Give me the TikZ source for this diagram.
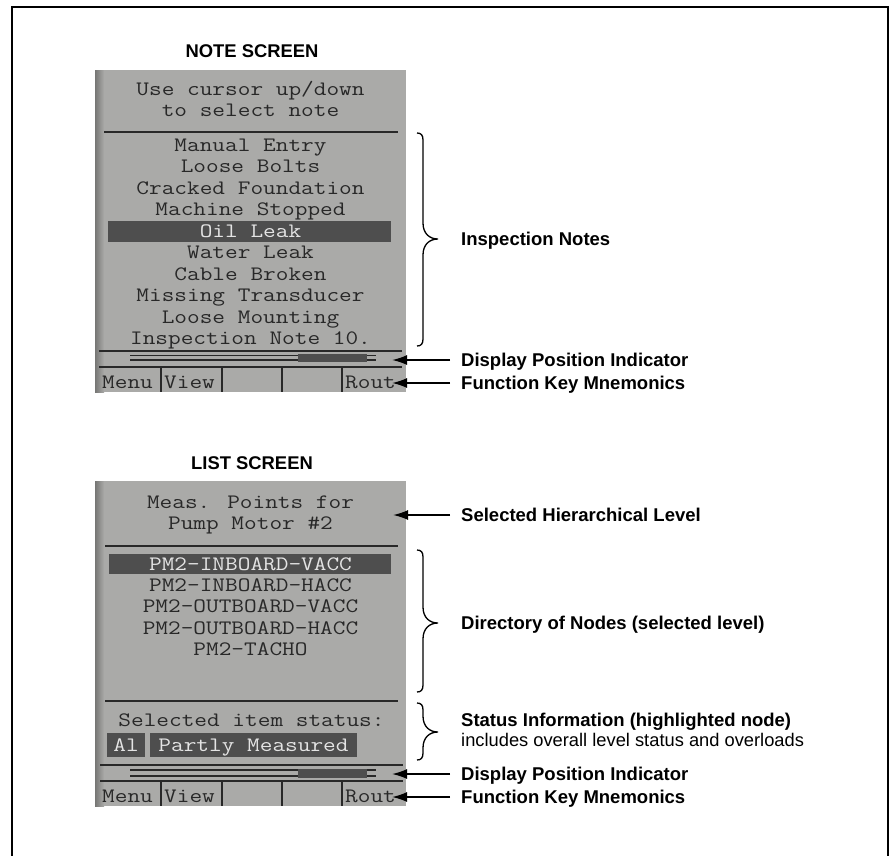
\documentclass[tikz,border=0pt]{standalone}
\usepackage{fontspec}
\setmainfont{Liberation Sans}
\newfontfamily\lcdfont[FakeStretch=1.2]{Latin Modern Mono}
\usetikzlibrary{arrows.meta}
\definecolor{lcd}{RGB}{170,170,168}
\definecolor{lcdedge}{RGB}{118,118,116}
\definecolor{ink}{RGB}{40,40,40}
\definecolor{hilite}{RGB}{78,78,78}
\definecolor{hitext}{RGB}{228,228,228}
\newcommand{\drawrule}{\draw[ink,line width=2pt]}
% screen body, #1 top, #2 bottom
\newcommand{\drawscreen}[2]{
  \fill[lcd] (95,#1) rectangle (406,#2);
  \shade[left color=lcdedge,right color=lcd] (95,#1) rectangle (104,#2);
}
% position bar, #1 upper line, #2 lower line
\newcommand{\drawposbar}[2]{
  \draw[ink,line width=1.4pt] (130,#1)--(376,#1);
  \draw[ink,line width=1.4pt] (130,#2)--(376,#2);
  \fill[hilite] (298,{#1-1.5}) rectangle (367,{#2+1.5});
}
% function keys, #1 name prefix, #2 row top, #3 row bottom
\newcommand{\drawkeys}[3]{
  \foreach \x in {161,222,282,342}{
    \draw[ink,line width=1.5pt] (\x,#2)--(\x,#3);
  }
  \node[lcdtext,anchor=west] (#1menu) at (102,{(#2+#3)/2+2.5}) {Menu};
  \node[lcdtext,anchor=west] (#1view) at (164,{(#2+#3)/2+2.5}) {View};
  \node[lcdtext,anchor=west] (#1rout) at (345,{(#2+#3)/2+2.5}) {Rout};
}
% brace on the right of a screen, #1 top, #2 bottom, #3 tip
\newcommand{\drawbrace}[3]{
  \draw[line width=1.3pt] (417,#1) .. controls (421,#1) and (423,{#1+2}) .. (423,{#1+7})
    -- (423,{#3-16}) .. controls (423,{#3-5}) and (430,#3) .. (438,#3)
    .. controls (430,#3) and (423,{#3+5}) .. (423,{#3+16})
    -- (423,{#2-7}) .. controls (423,{#2-2}) and (421,#2) .. (417,#2);
}

\begin{document}
\begin{tikzpicture}[x=1pt,y=-1pt,
  lcdtext/.style={font=\lcdfont\fontsize{20.5}{21.5}\selectfont,text=ink,inner sep=0pt,text height=12.5pt,text depth=0pt},
  head/.style={font=\bfseries\fontsize{18.4}{20}\selectfont,inner sep=0pt,text height=13pt,text depth=0pt},
  callout/.style={font=\bfseries\fontsize{18.5}{20}\selectfont,anchor=west,inner sep=0pt,text height=13pt,text depth=0pt},
  pointer/.style={line width=1.8pt,-{Latex[length=15pt,width=10pt]}}]
\useasboundingbox (0,0) rectangle (892,855);
\fill[white] (0,0) rectangle (892,855);
\draw[line width=2pt] (12,860)--(12,7)--(888,7)--(888,860);

% note screen
\node[head] (notehead) at (252,51) {NOTE SCREEN};
\drawscreen{70}{392}
\node[lcdtext] (prompta) at (250.5,89) {Use cursor up/down};
\node[lcdtext] (promptb) at (250.5,110) {to select note};
\drawrule (104,132)--(398,132);
\fill[hilite] (108,221) rectangle (391,242);
\foreach \t/\c [count=\i] in {Manual Entry/ink,Loose Bolts/ink,Cracked Foundation/ink,
    Machine Stopped/ink,Oil Leak/hitext,Water Leak/ink,Cable Broken/ink,
    Missing Transducer/ink,Loose Mounting/ink,Inspection Note 10./ink}{
  \node[lcdtext,text=\c] (note\i) at (250.5,{123.5+21.5*\i}) {\t};
}
\drawrule (99,351)--(402,351);
\drawposbar{355.5}{360}
\drawrule (99,367)--(402,367);
\drawkeys{n}{367}{392}

% list screen
\node[head] (listhead) at (252,463) {LIST SCREEN};
\drawscreen{481}{806}
\node[lcdtext] (levela) at (250.5,502) {Meas. Points for};
\node[lcdtext] (levelb) at (250.5,523) {Pump Motor \#2};
\drawrule (105,546)--(398,546);
\fill[hilite] (109,554) rectangle (391,574);
\foreach \t/\c [count=\i] in {PM2-INBOARD-VACC/hitext,PM2-INBOARD-HACC/ink,
    PM2-OUTBOARD-VACC/ink,PM2-OUTBOARD-HACC/ink,PM2-TACHO/ink}{
  \node[lcdtext,text=\c] (point\i) at (250.5,{542.7+21.3*\i}) {\t};
}
\drawrule (105,701)--(398,701);
\node[lcdtext] (status) at (251.5,720) {Selected item status:};
\fill[hilite] (107,733) rectangle (145,757);
\fill[hilite] (150,733) rectangle (357,757);
\node[lcdtext,text=hitext] (alarm) at (126,745) {Al};
\node[lcdtext,text=hitext] (measured) at (253.5,745) {Partly Measured};
\drawrule (100,765)--(403,765);
\drawposbar{770}{776}
\drawrule (100,781)--(403,781);
\drawkeys{l}{781}{806}

% callouts, note screen
\drawbrace{133}{346}{239}
\node[callout] (inspect) at (461,239) {Inspection Notes};
\coordinate (posa) at (392,360);
\node[callout] (posalbl) at (461,360) {Display Position Indicator};
\draw[pointer] ([xshift=-11pt]posalbl.west) -- (posa);
\coordinate (keysa) at (392,383);
\node[callout] (keysalbl) at (461,383) {Function Key Mnemonics};
\draw[pointer] ([xshift=-11pt]keysalbl.west) -- (keysa);

% callouts, list screen
\coordinate (levtip) at (393,515);
\node[callout] (levlbl) at (461,515) {Selected Hierarchical Level};
\draw[pointer] ([xshift=-11pt]levlbl.west) -- (levtip);
\drawbrace{550}{692}{623}
\node[callout] (dirlbl) at (461,623) {Directory of Nodes (selected level)};
\drawbrace{703}{760}{732}
\node[callout] (statlbl) at (461,720) {Status Information (highlighted node)};
\node[callout,font=\fontsize{18.3}{19}\selectfont] (statsub) at (461,740) {includes overall level status and overloads};
\coordinate (posb) at (392,774);
\node[callout] (posblbl) at (461,774) {Display Position Indicator};
\draw[pointer] ([xshift=-11pt]posblbl.west) -- (posb);
\coordinate (keysb) at (392,797);
\node[callout] (keysblbl) at (461,797) {Function Key Mnemonics};
\draw[pointer] ([xshift=-11pt]keysblbl.west) -- (keysb);
\end{tikzpicture}
\end{document}
